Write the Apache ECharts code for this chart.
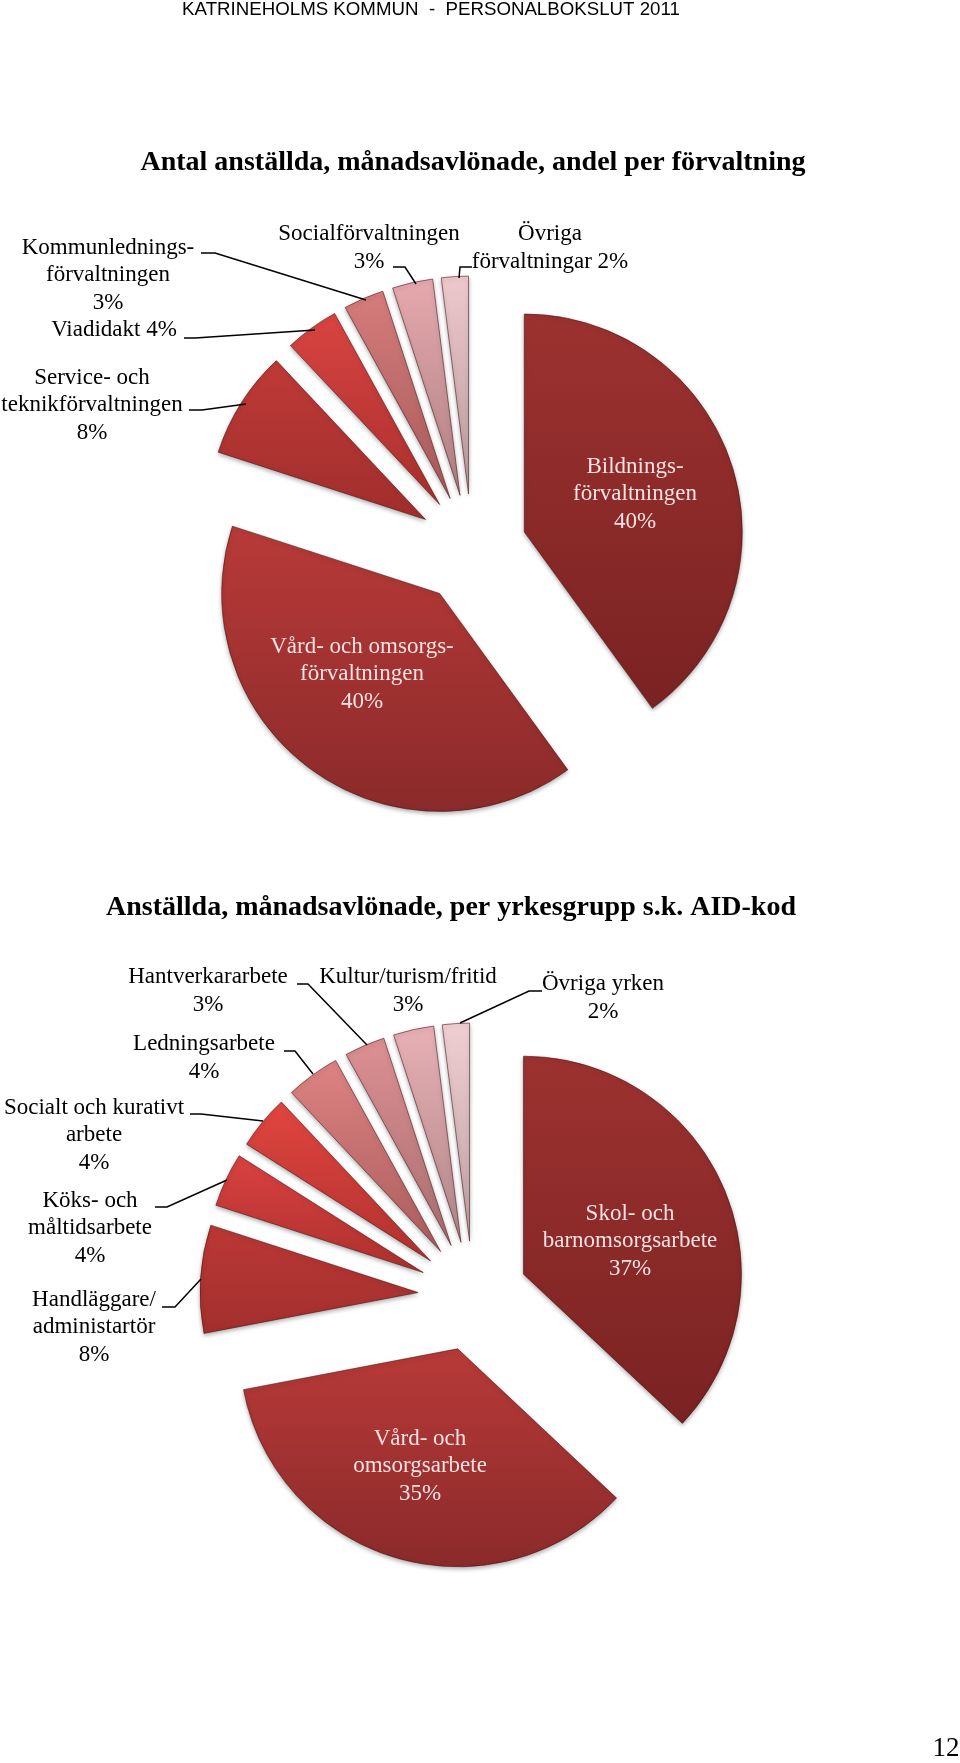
<!DOCTYPE html>
<html>
<head>
<meta charset="utf-8">
<script src="https://cdn.jsdelivr.net/npm/echarts@6/dist/echarts.min.js"></script>
<style>
  html, body { margin: 0; padding: 0; background: #fff; }
  #chart { width: 960px; height: 1763px; }
</style>
</head>
<body>
<div id="chart"></div>
<script>
const pageHeader = 'KATRINEHOLMS KOMMUN  -  PERSONALBOKSLUT 2011'
const pageNumber = '12'

const title1 = 'Antal anställda, månadsavlönade, andel per förvaltning'
const categories1 = ['Bildningsförvaltningen', 'Vård- och omsorgsförvaltningen', 'Service- och teknikförvaltningen', 'Viadidakt', 'Kommunledningsförvaltningen', 'Socialförvaltningen', 'Övriga förvaltningar']
const values1 = [40, 40, 8, 4, 3, 3, 2]
const labels1 = ['Bildnings-\nförvaltningen\n40%', 'Vård- och omsorgs-\nförvaltningen\n40%', 'Service- och\nteknikförvaltningen\n8%', 'Viadidakt 4%', 'Kommunlednings-\nförvaltningen\n3%', 'Socialförvaltningen\n3%', 'Övriga\nförvaltningar 2%']

const title2 = 'Anställda, månadsavlönade, per yrkesgrupp s.k. AID-kod'
const categories2 = ['Skol- och barnomsorgsarbete', 'Vård- och omsorgsarbete', 'Handläggare/administartör', 'Köks- och måltidsarbete', 'Socialt och kurativt arbete', 'Ledningsarbete', 'Hantverkararbete', 'Kultur/turism/fritid', 'Övriga yrken']
const values2 = [37, 35, 8, 4, 4, 4, 3, 3, 2]
const labels2 = ['Skol- och\nbarnomsorgsarbete\n37%', 'Vård- och\nomsorgsarbete\n35%', 'Handläggare/\nadministartör\n8%', 'Köks- och\nmåltidsarbete\n4%', 'Socialt och kurativt\narbete\n4%', 'Ledningsarbete\n4%', 'Hantverkararbete\n3%', 'Kultur/turism/fritid\n3%', 'Övriga yrken\n2%']

// top / bottom colour of each slice's gradient
const shades1 = [['#9c3230', '#7a2222'], ['#b83a38', '#8a2a2a'], ['#bf3a38', '#a02e2c'], ['#d94441', '#a82f2d'], ['#d67c7c', '#a65a5a'], ['#e6a9ae', '#ae8082'], ['#eec8cc', '#b89a9c']]
const shades2 = [['#9c3230', '#7a2222'], ['#b83a38', '#8a2a2a'], ['#bb3836', '#a22f2d'], ['#d94240', '#ad302e'], ['#e2453f', '#b0322f'], ['#de8383', '#aa5c5c'], ['#dd9093', '#a86e70'], ['#e8b0b4', '#b08688'], ['#f0cfd2', '#bc9fa1']]

// label anchors and leader lines, page pixels
const labelPos1 = [[635, 494], [362, 674], [92, 405], [114, 330], [108, 275], [369, 248], [550, 248]]
const leaders1 = [
  [[246, 404], [202, 410], [189, 410]],
  [[315, 330], [195, 338], [184, 338]],
  [[366, 300], [215, 253], [201, 253]],
  [[416, 284], [405, 267], [393, 267]],
  [[459, 278], [460, 267], [472, 267]]
]
const labelPos2 = [[630, 1241], [420, 1466], [94, 1327], [90, 1228], [94, 1135], [204, 1058], [208, 991], [408, 991], [603, 998]]
const leaders2 = [
  [[201, 1279], [175, 1307], [162, 1307]],
  [[227, 1180], [167, 1207], [155, 1207]],
  [[263, 1121], [201, 1114], [190, 1114]],
  [[313, 1074], [295, 1051], [284, 1051]],
  [[367, 1045], [308, 984], [297, 984]],
  [[460, 1023], [529, 991], [542, 991]]
]

const serif = '"Liberation Serif", "Times New Roman", serif'

function sliceData(categories, values, shades) {
  return categories.map((name, i) => ({
    name,
    value: values[i],
    selected: true,
    itemStyle: {
      color: new echarts.graphic.LinearGradient(0, 0, 0, 1, [
        { offset: 0, color: shades[i][0] },
        { offset: 1, color: shades[i][1] }
      ])
    }
  }))
}

function pieSeries(categories, values, shades, center) {
  return {
    type: 'pie',
    center,
    radius: 218,
    startAngle: 90,
    clockwise: true,
    selectedMode: 'multiple',
    selectedOffset: 55,
    animation: false,
    silent: true,
    label: { show: false },
    labelLine: { show: false },
    data: sliceData(categories, values, shades),
    itemStyle: {
      borderWidth: 1,
      borderColor: 'rgba(70,15,15,0.55)',
      shadowBlur: 4,
      shadowOffsetY: 2,
      shadowColor: 'rgba(0,0,0,0.3)'
    }
  }
}

// pie labels follow the exploded slices, so text and leaders go in as graphics
function labelGraphics(labels, positions, leaders) {
  const texts = labels.map((text, i) => ({
    type: 'text',
    x: positions[i][0],
    y: positions[i][1],
    z: 10,
    style: {
      text,
      fontFamily: serif,
      fontSize: 23,
      lineHeight: 27.5,
      align: 'center',
      verticalAlign: 'middle',
      fill: i < 2 ? '#f3e2e1' : '#000'
    }
  }))
  const lines = leaders.map((points) => ({
    type: 'polyline',
    z: 10,
    shape: { points },
    style: { stroke: '#000', lineWidth: 1.5, fill: null }
  }))
  return texts.concat(lines)
}

const chart = echarts.init(document.getElementById('chart'), null, { renderer: 'canvas' })
chart.setOption({
  backgroundColor: '#fff',
  title: [
    { text: pageHeader, left: 431, top: 10, textAlign: 'center', textVerticalAlign: 'middle', padding: 0, textStyle: { fontFamily: '"Liberation Sans", Arial, sans-serif', fontSize: 18.7, fontWeight: 'normal', color: '#000' } },
    { text: title1, left: 473, top: 163, textAlign: 'center', textVerticalAlign: 'middle', padding: 0, textStyle: { fontFamily: serif, fontSize: 28, fontWeight: 'bold', color: '#000' } },
    { text: title2, left: 451, top: 908, textAlign: 'center', textVerticalAlign: 'middle', padding: 0, textStyle: { fontFamily: serif, fontSize: 28, fontWeight: 'bold', color: '#000' } },
    { text: pageNumber, left: 946, top: 1749, textAlign: 'center', textVerticalAlign: 'middle', padding: 0, textStyle: { fontFamily: serif, fontSize: 27, fontWeight: 'normal', color: '#000' } }
  ],
  series: [
    pieSeries(categories1, values1, shades1, [472, 549]),
    pieSeries(categories2, values2, shades2, [473, 1296])
  ],
  graphic: labelGraphics(labels1, labelPos1, leaders1).concat(labelGraphics(labels2, labelPos2, leaders2))
})
</script>
</body>
</html>
